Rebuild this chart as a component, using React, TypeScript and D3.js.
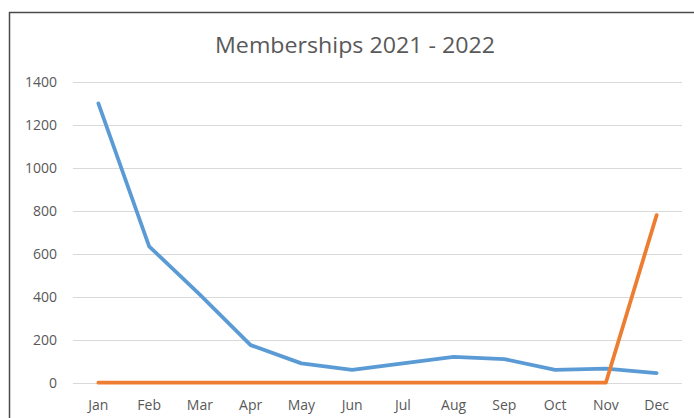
import { useEffect, useRef } from 'react';
import * as d3 from 'd3';

const months = ["Jan", "Feb", "Mar", "Apr", "May", "Jun", "Jul", "Aug", "Sep", "Oct", "Nov", "Dec"];
const series2021 = [1300, 635, 410, 175, 90, 60, 90, 120, 110, 60, 65, 45];
const series2022 = [0, 0, 0, 0, 0, 0, 0, 0, 0, 0, 0, 780];
const yTicks = [0, 200, 400, 600, 800, 1000, 1200, 1400];

const W = 694;
const H = 418;

const App = () => {
  const svgRef = useRef<SVGSVGElement>(null);

  useEffect(() => {
    if (!svgRef.current) return;
    const svg = d3.select(svgRef.current);
    svg.selectAll("*").remove();

    const font = "'Open Sans', 'Liberation Sans', sans-serif";

    // chart frame
    svg.append("rect")
      .attr("x", 9.5)
      .attr("y", 12.5)
      .attr("width", W + 20)
      .attr("height", H + 20)
      .style("fill", "white")
      .style("stroke", "#4a4a4a")
      .style("stroke-width", 1.5);

    svg.append("text")
      .attr("x", 355)
      .attr("y", 53)
      .attr("text-anchor", "middle")
      .style("font-family", font)
      .style("font-size", "22px")
      .style("fill", "#595959")
      .attr("textLength", 280)
      .attr("lengthAdjust", "spacingAndGlyphs")
      .text("Memberships 2021 - 2022");

    const x = d3.scaleBand<string>()
      .domain(months)
      .range([73, 682]);

    const y = d3.scaleLinear()
      .domain([0, 1400])
      .range([382.7, 82]);

    // gridlines
    svg.append("g")
      .selectAll("line")
      .data(yTicks)
      .enter()
      .append("line")
      .attr("x1", 73)
      .attr("x2", 682)
      .attr("y1", d => Math.round(y(d)) + 0.5)
      .attr("y2", d => Math.round(y(d)) + 0.5)
      .style("stroke", "#d9d9d9")
      .style("stroke-width", 1);

    // y labels
    svg.append("g")
      .selectAll("text")
      .data(yTicks)
      .enter()
      .append("text")
      .attr("x", 57)
      .attr("y", d => y(d))
      .attr("dy", "0.35em")
      .attr("text-anchor", "end")
      .style("font-family", font)
      .style("font-size", "14px")
      .style("fill", "#595959")
      .text(d => d.toString());

    // x labels
    svg.append("g")
      .selectAll("text")
      .data(months)
      .enter()
      .append("text")
      .attr("x", d => (x(d) ?? 0) + x.bandwidth() / 2)
      .attr("y", 405)
      .attr("dy", "0.35em")
      .attr("text-anchor", "middle")
      .style("font-family", font)
      .style("font-size", "14px")
      .style("fill", "#595959")
      .text(d => d);

    const line = d3.line<number>()
      .x((d, i) => (x(months[i]) ?? 0) + x.bandwidth() / 2)
      .y(d => y(d));

    svg.append("path")
      .datum(series2021)
      .attr("d", line)
      .style("fill", "none")
      .style("stroke", "#5b9bd5")
      .style("stroke-width", 3.75)
      .style("stroke-linejoin", "round")
      .style("stroke-linecap", "round");

    svg.append("path")
      .datum(series2022)
      .attr("d", line)
      .style("fill", "none")
      .style("stroke", "#ed7d31")
      .style("stroke-width", 3.75)
      .style("stroke-linejoin", "round")
      .style("stroke-linecap", "round");
  }, []);

  return (
    <div style={{ position: "fixed", top: 0, left: 0, width: W, height: H, overflow: "hidden", background: "white" }}>
      <svg ref={svgRef} width={W} height={H}></svg>
    </div>
  );
};

export default App;
